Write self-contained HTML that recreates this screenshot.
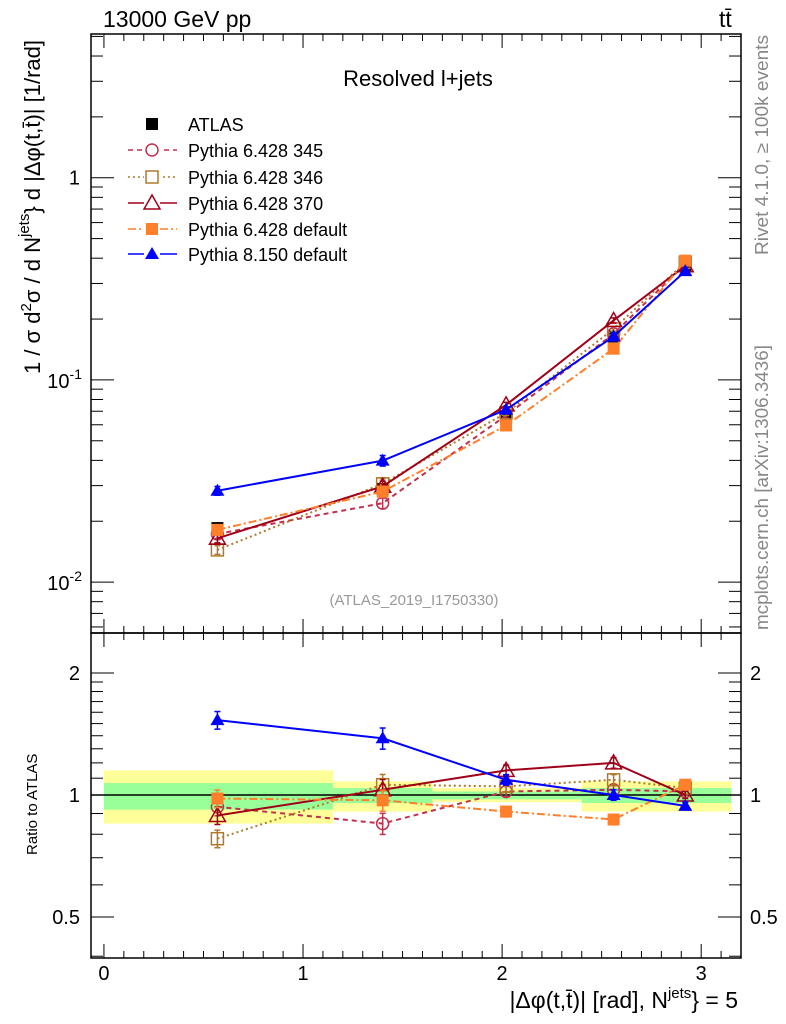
<!DOCTYPE html>
<html><head><meta charset="utf-8">
<style>
html,body{margin:0;padding:0;background:#fff;}
svg{display:block;font-family:"Liberation Sans",sans-serif;}
</style></head>
<body>
<svg id="plot" width="786" height="1024" viewBox="0 0 786 1024"></svg>
<script>
const xCenters=[0.57,1.40,2.02,2.56,2.92];
const atlasVals=[0.0185,0.0289,0.0654,0.164,0.367];
const atlasRelErr=[0.07,0.04,0.025,0.04,0.04];
const bandEdges=[0,1.15,1.65,2.4,3.15];
const bandGreenLo=[0.92,0.955,0.975,0.955];
const bandGreenHi=[1.07,1.04,1.02,1.04];
const bandYellowLo=[0.85,0.91,0.96,0.91];
const bandYellowHi=[1.15,1.08,1.04,1.08];
const ratio345=[0.935,0.85,1.02,1.03,1.02];
const ratio346=[0.78,1.06,1.05,1.09,1.04];
const ratio370=[0.89,1.03,1.15,1.20,1.00];
const ratioDef6=[0.98,0.97,0.91,0.87,1.06];
const ratioP8=[1.53,1.38,1.09,1.00,0.94];
const modelRelErr=[0.05,0.06,0.03,0.03,0.02];
const xTickLabels=["0","1","2","3"];
const ratioTickVals=[0.5,1,2];
const ratioTickLabels=["0.5","1","2"];

const NS="http://www.w3.org/2000/svg";
const svg=document.getElementById('plot');
function el(tag,attrs,parent){const e=document.createElementNS(NS,tag);for(const k in attrs)e.setAttribute(k,attrs[k]);(parent||svg).appendChild(e);return e;}

const L=91,R=741,T=34,M=633,B=958;
const xmin=-0.065,xmax=3.2;
function X(v){return L+(v-xmin)/(xmax-xmin)*(R-L);}
const ymainMax=Math.log10(5.14),ymainMin=Math.log10(0.0056);
function Ym(v){return T+(ymainMax-Math.log10(v))/(ymainMax-ymainMin)*(M-T);}
const yrMax=Math.log10(2.51),yrMin=Math.log10(0.396);
function Yr(v){return M+(yrMax-Math.log10(v))/(yrMax-yrMin)*(B-M);}

const bands=el('g',{},svg);


for(let i=0;i<bandEdges.length-1;i++){
  const x1=X(bandEdges[i]),x2=X(bandEdges[i+1]);
  const y=el('rect',{x:x1,y:Yr(bandYellowHi[i]),width:x2-x1,height:Yr(bandYellowLo[i])-Yr(bandYellowHi[i]),fill:'#ffff99'},bands);
  
  
  const g=el('rect',{x:x1,y:Yr(bandGreenHi[i]),width:x2-x1,height:Yr(bandGreenLo[i])-Yr(bandGreenHi[i]),fill:'#99ff99'},bands);
  
  
}
el('line',{x1:L,x2:R,y1:Yr(1),y2:Yr(1),stroke:'#000','stroke-width':1.5},svg);

const f1=el('rect',{x:L,y:T,width:R-L,height:M-T,fill:'none',stroke:'#000','stroke-width':1.5});


const f2=el('rect',{x:L,y:M,width:R-L,height:B-M,fill:'none',stroke:'#000','stroke-width':1.5});



const tk=el('g',{stroke:'#000','stroke-width':1});
for(let i=0;i<=32;i++){
  const v=i*0.1; if(v>xmax) break;
  const x=X(v), maj=(i%10===0), l=maj?14:7;
  el('line',{x1:x,x2:x,y1:T,y2:T+l},tk);
  el('line',{x1:x,x2:x,y1:M,y2:M-l},tk);
  el('line',{x1:x,x2:x,y1:M,y2:M+l},tk);
  el('line',{x1:x,x2:x,y1:B,y2:B-l},tk);
}
xTickLabels.forEach((t,i)=>{
  const e=el('text',{x:X(i),y:980,'font-size':20,'text-anchor':'middle'});e.textContent=t;
  
  
});
for(let d=-3;d<=0;d++){
  for(let m=1;m<=9;m++){
    const v=m*Math.pow(10,d); if(v<0.0056||v>5.14) continue;
    const y=Ym(v), l=m===1?23:12;
    el('line',{x1:L,x2:L+l,y1:y,y2:y},tk);
    el('line',{x1:R,x2:R-l,y1:y,y2:y},tk);
  }
}
const lab1=el('text',{x:80,y:Ym(1)+7,'font-size':20,'text-anchor':'end'});lab1.textContent='1';


[[-1,0.1],[-2,0.01]].forEach(([p,v])=>{
  const t=el('text',{x:82,y:Ym(v)+8,'font-size':20,'text-anchor':'end'});
  
  
  t.innerHTML='10<tspan dy="-9" font-size="14">'+p+'</tspan>';
});
[0.4,0.5,0.6,0.7,0.8,0.9,1,2].forEach(v=>{
  if(v<0.396)return;
  const y=Yr(v), maj=(v===0.5||v===1||v===2), l=maj?23:12;
  el('line',{x1:L,x2:L+l,y1:y,y2:y},tk);
  el('line',{x1:R,x2:R-l,y1:y,y2:y},tk);
});
[1.1,1.2,1.3,1.4,1.5,1.6,1.7,1.8,1.9].forEach(v=>{
  const y=Yr(v);
  el('line',{x1:L,x2:L+12,y1:y,y2:y},tk);
  el('line',{x1:R,x2:R-12,y1:y,y2:y},tk);
});
ratioTickVals.forEach((v,i)=>{
  const a=el('text',{x:80,y:Yr(v)+7,'font-size':20,'text-anchor':'end'});a.textContent=ratioTickLabels[i];
  
  
  const b=el('text',{x:750,y:Yr(v)+7,'font-size':20});b.textContent=ratioTickLabels[i];
  
  
});

function marker(g,type,x,y,color){
  if(type==='fsq') el('rect',{x:x-6,y:y-6,width:12,height:12,fill:color},g);
  else if(type==='osq') el('rect',{x:x-6,y:y-6,width:12,height:12,fill:'none',stroke:color,'stroke-width':1.5},g);
  else if(type==='ocirc') el('circle',{cx:x,cy:y,r:6,fill:'none',stroke:color,'stroke-width':1.5},g);
  else if(type==='otri') el('polygon',{points:`${x},${y-8} ${x-8},${y+6} ${x+8},${y+6}`,fill:'none',stroke:color,'stroke-width':1.5},g);
  else if(type==='ftri') el('polygon',{points:`${x},${y-7} ${x-7},${y+5} ${x+7},${y+5}`,fill:color},g);
}
const series=[
  {name:'pythia-6428-345',label:'Pythia 6.428 345',r:ratio345,color:'#c0304f',dash:'5,4',m:'ocirc'},
  {name:'pythia-6428-346',label:'Pythia 6.428 346',r:ratio346,color:'#b07a2a',dash:'2,3',m:'osq'},
  {name:'pythia-6428-370',label:'Pythia 6.428 370',r:ratio370,color:'#a00018',dash:'',m:'otri'},
  {name:'pythia-6428-default',label:'Pythia 6.428 default',r:ratioDef6,color:'#ff7f2a',dash:'8,3,2,3',m:'fsq'},
  {name:'pythia-8150-default',label:'Pythia 8.150 default',r:ratioP8,color:'#0000ff',dash:'',m:'ftri'}
];
const ag=el('g',{});


xCenters.forEach((xv,i)=>{
  const v=atlasVals[i];
  el('line',{x1:X(xv),x2:X(xv),y1:Ym(v*(1+atlasRelErr[i])),y2:Ym(v*(1-atlasRelErr[i])),stroke:'#000','stroke-width':1.5},ag);
  marker(ag,'fsq',X(xv),Ym(v),'#000');
});
series.forEach(s=>{
  [Ym,Yr].forEach((Yf,pi)=>{
    const g=el('g',{});
    
    
    const vals=xCenters.map((_,i)=>pi===0?atlasVals[i]*s.r[i]:s.r[i]);
    const pts=xCenters.map((xv,i)=>X(xv)+','+Yf(vals[i])).join(' ');
    const pl=el('polyline',{points:pts,fill:'none',stroke:s.color,'stroke-width':2},g);
    if(s.dash) pl.setAttribute('stroke-dasharray',s.dash);
    xCenters.forEach((xv,i)=>{
      const e=modelRelErr[i];
      el('line',{x1:X(xv),x2:X(xv),y1:Yf(vals[i]*(1+e)),y2:Yf(vals[i]*(1-e)),stroke:s.color,'stroke-width':1.5},g);
      el('line',{x1:X(xv)-3,x2:X(xv)+3,y1:Yf(vals[i]*(1+e)),y2:Yf(vals[i]*(1+e)),stroke:s.color,'stroke-width':1.5},g);
      el('line',{x1:X(xv)-3,x2:X(xv)+3,y1:Yf(vals[i]*(1-e)),y2:Yf(vals[i]*(1-e)),stroke:s.color,'stroke-width':1.5},g);
      marker(g,s.m,X(xv),Yf(vals[i]),s.color);
    });
  });
});

const lg=el('g',{});


const lt=el('text',{x:418,y:86,'font-size':22,'text-anchor':'middle'},lg);lt.textContent='Resolved l+jets';


const rows=[124,150,177,203,229,254];
marker(lg,'fsq',152,rows[0],'#000');
const at=el('text',{x:188,y:rows[0]+7,'font-size':18},lg);at.textContent='ATLAS';


series.forEach((s,i)=>{
  const y=rows[i+1];
  const ln=el('line',{x1:128,x2:177,y1:y,y2:y,stroke:s.color,'stroke-width':1.5},lg);
  if(s.dash) ln.setAttribute('stroke-dasharray',s.dash);
  el('rect',{x:144,y:y-8,width:16,height:16,fill:'#fff'},lg);
  marker(lg,s.m,152,y,s.color);
  const t=el('text',{x:188,y:y+7,'font-size':18},lg);t.textContent=s.label;
  
  
});
</script>
<svg width="786" height="1024" style="position:absolute;left:0;top:0">
<g font-family="Liberation Sans, sans-serif">
<text x="103" y="27" font-size="23">13000 GeV pp</text>
<text x="719" y="27" font-size="23">tt̄</text>
<text x="414" y="605" font-size="15" fill="#999" text-anchor="middle">(ATLAS_2019_I1750330)</text>
<text transform="translate(768,255) rotate(-90)" font-size="18" fill="#888" textLength="220" lengthAdjust="spacingAndGlyphs">Rivet 4.1.0, ≥ 100k events</text>
<text transform="translate(768,630) rotate(-90)" font-size="18" fill="#888" textLength="285" lengthAdjust="spacingAndGlyphs">mcplots.cern.ch [arXiv:1306.3436]</text>
<text transform="translate(40,40) rotate(-90)" font-size="22" text-anchor="end">1 / σ d<tspan dy="-9" font-size="15">2</tspan><tspan dy="9">σ / d N</tspan><tspan dy="-11" font-size="15">jets</tspan><tspan dy="11">} d |Δφ(t,t̄)| [1/rad]</tspan></text>
<text transform="translate(37,855) rotate(-90)" font-size="15">Ratio to ATLAS</text>
<text x="738" y="1008" font-size="23" text-anchor="end">|Δφ(t,t̄)| [rad], N<tspan dy="-10" font-size="15">jets</tspan><tspan dy="10">} = 5</tspan></text>
</g></svg>
</body></html>
